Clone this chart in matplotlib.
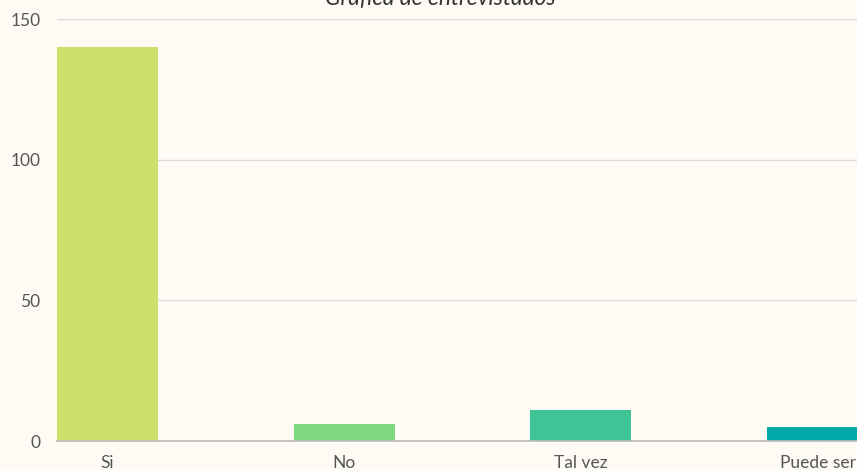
import matplotlib.pyplot as plt

categories = ["Si", "No", "Tal vez", "Puede ser"]
values = [140, 6, 11, 5]
colors = ["#cbe16a", "#7dd87f", "#40c497", "#00a8a8"]
yticks = [0, 50, 100, 150]

plt.rcParams["font.family"] = ["Lato", "DejaVu Sans"]

W, H = 857, 470
bg = "#fefbf5"
fig = plt.figure(figsize=(W / 100, H / 100), dpi=100, facecolor=bg)

# axes: left edge at 57px, y=0 at 441px, y=150 at 19px, runs off the right side
left, right = 57, 857
bottom, top = 441, 19
ax = fig.add_axes([left / W, (H - bottom) / H, (right - left) / W, (bottom - top) / H])
ax.set_facecolor(bg)

step = 236.7
width = 101 / step
x = list(range(len(categories)))
ax.bar(x, values, width=width, color=colors, zorder=2)

ax.set_xlim(-width / 2, -width / 2 + (right - left) / step)
ax.set_ylim(0, 150)
ax.set_yticks(yticks)
ax.set_xticks(x)
ax.set_xticklabels(categories)
ax.yaxis.grid(True, color="#dcdcdc", linewidth=1, zorder=0)
ax.tick_params(axis="both", length=0, labelsize=12.5, labelcolor="#555555")
ax.tick_params(axis="x", pad=10)
ax.tick_params(axis="y", pad=12)
for side in ["top", "right", "left"]:
    ax.spines[side].set_visible(False)
ax.spines["bottom"].set_color("#bbbbbb")
ax.spines["bottom"].set_linewidth(1.2)

# title sits mostly above the top edge, as in the reference
fig.text(440 / W, 1.0 - 5 / H, "Gráfica de entrevistados", ha="center", va="baseline",
         fontsize=16.4, style="italic", color="#333333")

fig.savefig("out.png", dpi=100, facecolor=bg)
